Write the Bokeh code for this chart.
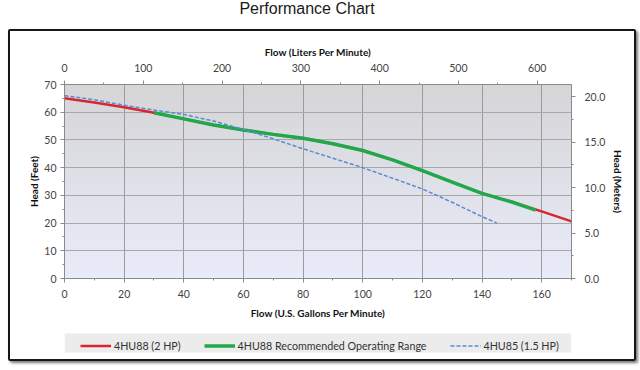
import numpy as np
from bokeh.plotting import figure
from bokeh.models import (Range1d, LinearAxis, Legend, LegendItem, BoxAnnotation, Div,
                          SingleIntervalTicker, NumeralTickFormatter)
from bokeh.layouts import column
from bokeh.embed import file_html
from bokeh.resources import INLINE

# ---- data ----
gpm_2hp = [0, 10, 20, 30, 40, 50, 60, 70, 80, 90, 100, 110, 120, 130, 140, 150, 160, 170]
head_2hp = [65.0, 63.5, 61.8, 59.8, 57.6, 55.4, 53.6, 52.0, 50.6, 48.6, 46.2, 42.8, 38.9, 34.8, 30.7, 27.6, 24.2, 20.6]
gpm_range = [30, 40, 50, 60, 70, 80, 90, 100, 110, 120, 130, 140, 150, 158]
head_range = [59.8, 57.6, 55.4, 53.6, 52.0, 50.6, 48.6, 46.2, 42.8, 38.9, 34.8, 30.7, 27.6, 24.7]
gpm_15hp = [0, 10, 20, 30, 40, 50, 60, 70, 80, 90, 100, 110, 120, 130, 140, 145]
head_15hp = [66.0, 64.5, 62.5, 60.8, 59.2, 56.8, 53.8, 50.4, 46.8, 43.4, 40.0, 36.2, 32.3, 27.5, 22.3, 20.0]
labels = ["4HU88 (2 HP)", "4HU88 Recommended Operating Range", "4HU85 (1.5 HP)"]
colors = ["#d7262f", "#22a84a", "#5a8bd0"]

GPM_MAX, FT_MAX = 170, 70
L_PER_GAL, M_PER_FT = 3.78541, 0.3048

FONT = "Lato"
TICK_COLOR = "#444444"
W = 624
MB_L, MB_R = 54, 63

p = figure(width=W, height=291, output_backend="svg", toolbar_location=None,
           x_range=Range1d(0, GPM_MAX), y_range=Range1d(0, FT_MAX),
           min_border_left=MB_L, min_border_right=MB_R, min_border_top=53, min_border_bottom=44,
           x_axis_label="Flow (U.S. Gallons Per Minute)", y_axis_label="Head (Feet)")
p.extra_x_ranges = {"lpm": Range1d(0, GPM_MAX * L_PER_GAL)}
p.extra_y_ranges = {"m": Range1d(0, FT_MAX * M_PER_FT)}
p.border_fill_color = "white"
p.outline_line_color = "#8a8a8a"

# gradient background of the plot area
n = 64
img = np.empty((n, 1), dtype=np.uint32)
view = img.view(dtype=np.uint8).reshape((n, 1, 4))
bottom_c = np.array([233, 236, 249])
top_c = np.array([214, 214, 216])
for i in range(n):
    t = i / (n - 1)
    c = bottom_c + (top_c - bottom_c) * t
    view[i, 0, 0:3] = c.astype(np.uint8)
    view[i, 0, 3] = 255
p.image_rgba(image=[img], x=0, y=0, dw=GPM_MAX, dh=FT_MAX, level="image")

p.line(gpm_2hp, head_2hp, line_color=colors[0], line_width=2.5)
p.line(gpm_range, head_range, line_color=colors[1], line_width=3.5)
p.line(gpm_15hp, head_15hp, line_color=colors[2], line_width=1.5, line_dash="4 2")

# axes
def style_axis(ax, label_standoff, title_standoff):
    ax.axis_line_color = "#8a8a8a"
    ax.major_tick_line_color = "#8a8a8a"
    ax.minor_tick_line_color = "#8a8a8a"
    ax.major_tick_out = 4
    ax.major_tick_in = 0
    ax.minor_tick_out = 2
    ax.minor_tick_in = 0
    ax.major_label_text_font = FONT
    ax.major_label_text_font_size = "10.5px"
    ax.major_label_text_color = TICK_COLOR
    ax.axis_label_text_font = FONT
    ax.axis_label_text_font_size = "10px"
    ax.axis_label_text_font_style = "bold"
    ax.axis_label_text_color = "#111111"
    ax.major_label_standoff = label_standoff
    ax.axis_label_standoff = title_standoff

p.xaxis.ticker = SingleIntervalTicker(interval=20, num_minor_ticks=2)
p.yaxis.ticker = SingleIntervalTicker(interval=10, num_minor_ticks=2)
style_axis(p.xaxis[0], 7, 6)
style_axis(p.yaxis[0], 4, 1)

top = LinearAxis(x_range_name="lpm", axis_label="Flow (Liters Per Minute)",
                 ticker=SingleIntervalTicker(interval=100, num_minor_ticks=2))
style_axis(top, 9, 3)
p.add_layout(top, "above")

right = LinearAxis(y_range_name="m", axis_label="Head (Meters)",
                   ticker=SingleIntervalTicker(interval=5, num_minor_ticks=2),
                   formatter=NumeralTickFormatter(format="0.0"))
style_axis(right, 9, 4)
p.add_layout(right, "right")

p.xgrid.grid_line_color = "#9c9c9c"
p.ygrid.grid_line_color = "#a8a8a8"

# ---- legend strip (its own small figure; frame aligned with the main plot) ----
LH = 37
lf = figure(width=W, height=LH, output_backend="svg", toolbar_location=None,
            x_range=Range1d(0, 1), y_range=Range1d(0, LH),
            min_border_left=MB_L, min_border_right=MB_R, min_border_top=0, min_border_bottom=0)
lf.axis.visible = False
lf.grid.visible = False
lf.outline_line_color = None
lf.border_fill_color = "white"
lf.background_fill_color = "white"
lf.add_layout(BoxAnnotation(bottom=7, top=26, fill_color="#ececec", fill_alpha=1, line_color=None))
lr = [lf.line([np.nan], [np.nan], line_color=colors[0], line_width=2.5),
      lf.line([np.nan], [np.nan], line_color=colors[1], line_width=3.5),
      lf.line([np.nan], [np.nan], line_color=colors[2], line_width=1.5, line_dash="4 2")]
legend = Legend(items=[LegendItem(label=labels[i], renderers=[lr[i]]) for i in range(3)],
                orientation="horizontal", location=(16, 7))
legend.background_fill_alpha = 0
legend.border_line_color = None
legend.label_text_font = FONT
legend.label_text_font_size = "10.7px"
legend.label_text_color = "#333333"
legend.glyph_width = 31
legend.glyph_height = 13
legend.label_height = 13
legend.label_standoff = 3
legend.spacing = 23
legend.padding = 3
legend.margin = 0
lf.add_layout(legend)

title = Div(text="Performance Chart", width=614, height=29, margin=(0, 0, 0, 0),
            styles={"font-size": "16px", "font-family": "Liberation Sans, Arial, sans-serif",
                    "line-height": "17px", "text-align": "center", "color": "#1a1a1a"})

boxed = column(p, lf, spacing=0, margin=(0, 0, 0, 8),
               styles={"border": "2px solid #161616", "box-shadow": "2px 2px 3px #777777",
                       "border-radius": "2px"})
layout = column(title, boxed, spacing=0)
open("out.html", "w").write(file_html(layout, INLINE))
